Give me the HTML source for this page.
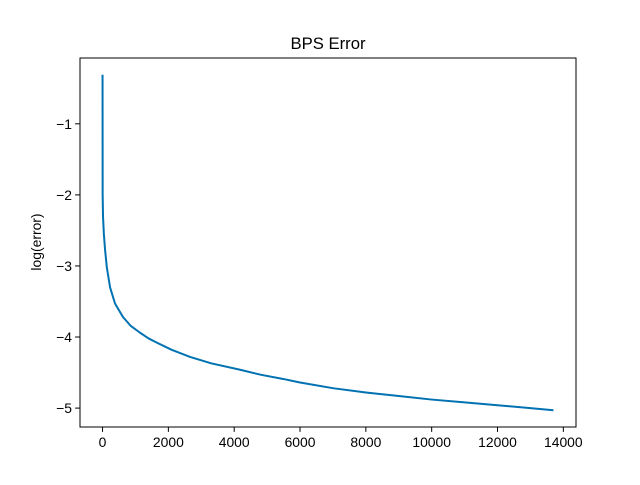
<!DOCTYPE html>
<html><head><meta charset="utf-8"><style>
body{margin:0;background:#fff;}
svg text{font-family:"Liberation Sans",sans-serif;fill:#000;}
</style></head><body>
<svg id="chart" width="640" height="480">
<rect x="0" y="0" width="640" height="480" fill="#fff"/>
<text x="328" y="49" text-anchor="middle" font-size="16.7">BPS Error</text>
<text transform="translate(41,242) rotate(-90)" text-anchor="middle" font-size="13.9">log(error)</text>
<g id="ticks"></g>
<polyline id="line" fill="none" stroke="#0072b2" stroke-width="2" stroke-linejoin="round"/>
<rect x="80" y="58" width="496" height="369" fill="none" stroke="#000" stroke-width="1"/>
</svg>
<script>
const iterations=[0,3,15,40,76,130,228,380,623,850,1140,1400,1656,2100,2660,3300,4180,4800,5490,6000,7000,8000,9000,10000,11000,12000,13000,13700];
const logError=[-0.31,-2.0,-2.31,-2.55,-2.77,-3.02,-3.30,-3.53,-3.72,-3.84,-3.94,-4.02,-4.08,-4.18,-4.28,-4.37,-4.46,-4.53,-4.59,-4.64,-4.72,-4.78,-4.83,-4.88,-4.92,-4.96,-5.0,-5.03];
const xTicks=[0,2000,4000,6000,8000,10000,12000,14000];
const yTicks=[-1,-2,-3,-4,-5];
const L=80,R=576,T=58,B=427;
const xmin=Math.min(...iterations),xmax=Math.max(...iterations),xr=xmax-xmin;
const ymin=Math.min(...logError),ymax=Math.max(...logError),yr=ymax-ymin;
const x0=xmin-0.05*xr,x1=xmax+0.05*xr,y0=ymin-0.05*yr,y1=ymax+0.05*yr;
const sx=v=>L+(v-x0)/(x1-x0)*(R-L);
const sy=v=>B-(v-y0)/(y1-y0)*(B-T);
const NS='http://www.w3.org/2000/svg';
const g=document.getElementById('ticks');
function mk(tag,attrs){const e=document.createElementNS(NS,tag);for(const k in attrs)e.setAttribute(k,attrs[k]);g.appendChild(e);return e;}
xTicks.forEach(v=>{
  const t=mk('line',{x1:sx(v),x2:sx(v),y1:B,y2:B+4.9,stroke:'#000'});
  
  
  const l=mk('text',{x:sx(v),y:B+20,'text-anchor':'middle','font-size':'13.9'});
  l.textContent=v;
  
  
});
yTicks.forEach(v=>{
  const t=mk('line',{x1:L-4.9,x2:L,y1:sy(v),y2:sy(v),stroke:'#000'});
  
  
  const l=mk('text',{x:L-8,y:sy(v)+5,'text-anchor':'end','font-size':'13.9'});
  l.textContent='\u2212'+Math.abs(v);
  
  
});
document.getElementById('line').setAttribute('points',iterations.map((v,i)=>sx(v)+','+sy(logError[i])).join(' '));
</script>
</body></html>
